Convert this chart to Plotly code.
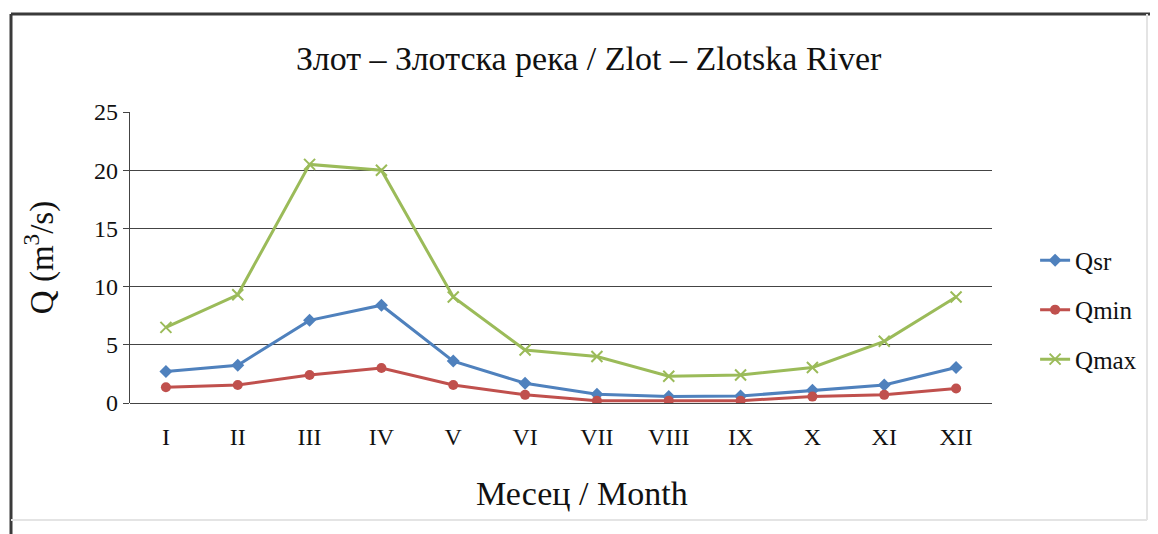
import plotly.graph_objects as go

months = ["I", "II", "III", "IV", "V", "VI", "VII", "VIII", "IX", "X", "XI", "XII"]
q_sr = [2.7, 3.25, 7.1, 8.4, 3.6, 1.7, 0.75, 0.55, 0.6, 1.1, 1.55, 3.05]
q_min = [1.35, 1.55, 2.4, 3.0, 1.55, 0.7, 0.2, 0.2, 0.2, 0.55, 0.7, 1.25]
q_max = [6.5, 9.3, 20.5, 20.0, 9.1, 4.55, 4.0, 2.3, 2.4, 3.05, 5.3, 9.1]
y_ticks = [0, 5, 10, 15, 20, 25]

FONT = "Liberation Serif"
BLUE = "#4F81BD"
RED = "#C0504D"
GREEN = "#9BBB59"

W, H = 1150, 526  # page adds an 8px body margin

fig = go.Figure()
fig.add_trace(go.Scatter(x=months, y=q_sr, name="Qsr", mode="lines+markers",
                         legendgroup="a",
                         line=dict(color=BLUE, width=3),
                         marker=dict(symbol="diamond", size=10, color=BLUE)))
fig.add_trace(go.Scatter(x=months, y=q_min, name="Qmin", mode="lines+markers",
                         legendgroup="b",
                         line=dict(color=RED, width=3),
                         marker=dict(symbol="circle", size=10, color=RED)))
fig.add_trace(go.Scatter(x=months, y=q_max, name="Qmax", mode="lines+markers",
                         legendgroup="c",
                         line=dict(color=GREEN, width=3),
                         marker=dict(symbol="x-thin", size=11, color=GREEN,
                                     line=dict(color=GREEN, width=2))))

def px(x0, y0, x1, y1):
    # container-pixel line in paper coords (plot area: l=122, t=104, w=862, h=291)
    return dict(x0=(x0 - 122) / 862, x1=(x1 - 122) / 862,
                y0=(395 - y0) / 291, y1=(395 - y1) / 291)

border_dark = dict(color="#3a3a3a", width=3)
border_light = dict(color="#e4e4e4", width=2)
shapes = [
    dict(type="line", xref="paper", yref="paper", line=border_dark, **px(3, 6, 1150, 6)),
    dict(type="line", xref="paper", yref="paper", line=border_dark, **px(3, 6, 3, 526)),
    dict(type="line", xref="paper", yref="paper", line=border_light, **px(1139, 6, 1139, 512)),
    dict(type="line", xref="paper", yref="paper", line=border_light, **px(3, 512, 1139, 512)),
]

fig.update_layout(
    width=W, height=H,
    margin=dict(l=122, r=166, t=104, b=131),
    paper_bgcolor="white", plot_bgcolor="white",
    font=dict(family=FONT, color="#111"),
    title=dict(text="Злот – Злотска река / Zlot – Zlotska River",
               font=dict(family=FONT, size=34, color="#111"),
               xref="container", x=0.505, xanchor="center",
               yref="container", y=0.905, yanchor="middle"),
    xaxis=dict(type="category", range=[-0.5, 11.5], showgrid=False, showline=False,
               ticks="outside", ticklen=12, tickcolor="rgba(0,0,0,0)",
               tickfont=dict(family=FONT, size=24, color="#111"),
               fixedrange=True),
    yaxis=dict(range=[0, 25], tickvals=y_ticks, showgrid=True, gridcolor="#444",
               gridwidth=1.2, zeroline=True, zerolinecolor="#444", zerolinewidth=1.2,
               showline=True, linecolor="#444", linewidth=1.2,
               ticks="outside", ticklen=6, tickcolor="#444",
               tickfont=dict(family=FONT, size=24, color="#111"),
               title=dict(text="Q (m<sup>3</sup>/s)", font=dict(family=FONT, size=33, color="#111"),
                          standoff=30),
               fixedrange=True),
    annotations=[dict(text="Месец / Month", xref="paper", yref="paper",
                      x=(574 - 122) / 862, y=(395 - 485) / 291,
                      xanchor="center", yanchor="middle", showarrow=False,
                      font=dict(family=FONT, size=34, color="#111"))],
    showlegend=True,
    legend=dict(font=dict(family=FONT, size=25, color="#111"), bgcolor="rgba(0,0,0,0)",
                xanchor="left", yanchor="middle", x=1.05, y=0.32,
                tracegroupgap=14),
    shapes=shapes,
)

fig.write_html("out.html")
